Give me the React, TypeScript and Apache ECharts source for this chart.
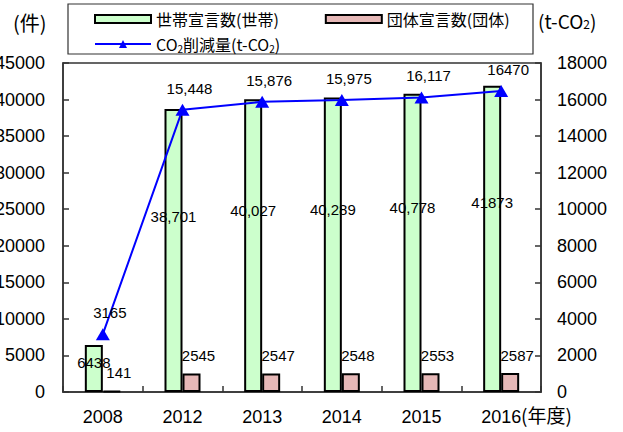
import React, { useEffect, useRef } from "react";
import * as echarts from "echarts";

const categories = ["2008", "2012", "2013", "2014", "2015", "2016"];
const householdValues = [6438, 38701, 40027, 40289, 40778, 41873];
const householdLabels = ["6438", "38,701", "40,027", "40,289", "40,778", "41873"];
const groupValues = [141, 2545, 2547, 2548, 2553, 2587];
const co2Values = [3165, 15448, 15876, 15975, 16117, 16470];
const co2Labels = ["3165", "15,448", "15,876", "15,975", "16,117", "16470"];

const NUM_FONT = "'Liberation Sans', Arial, sans-serif";
const JP_FONT = "'Noto Sans CJK JP', 'Liberation Sans', sans-serif";

export default function App() {
  const ref = useRef<HTMLDivElement>(null);
  useEffect(() => {
    if (!ref.current) return;
    const chart = echarts.init(ref.current, null, { renderer: "svg" });
    const axisLine = { show: true, lineStyle: { color: "#333", width: 1.5 } };
    const plain = (v: number) => String(v);
    chart.setOption({
      animation: false,
      backgroundColor: "#fff",
      grid: {
        left: 63,
        right: 82,
        top: 63,
        bottom: 40,
        containLabel: false,
        outerBoundsMode: "none",
        show: true,
        borderColor: "#333",
        borderWidth: 1.5,
        backgroundColor: "transparent",
      },
      legend: [
        {
          left: 89,
          top: 6,
          itemWidth: 56,
          itemHeight: 8,
          itemGap: 46,
          textStyle: { fontFamily: JP_FONT, fontSize: 16, color: "#000" },
          data: [
            { name: "世帯宣言数(世帯)", icon: "rect", itemStyle: { color: "#ccffcc", borderColor: "#000", borderWidth: 2 } },
            { name: "団体宣言数(団体)", icon: "rect", itemStyle: { color: "#e6b8b7", borderColor: "#000", borderWidth: 2 } },
          ],
        },
        {
          left: 89,
          top: 31,
          itemWidth: 56,
          itemHeight: 10,
          textStyle: {
            fontFamily: JP_FONT,
            fontSize: 16,
            color: "#000",
            rich: {
              n: { fontFamily: JP_FONT, fontSize: 16, color: "#000" },
              s: { fontFamily: JP_FONT, fontSize: 10, color: "#000", padding: [8, 0, 0, 0] },
            },
          },
          formatter: () => "{n|CO}{s|2}{n|削減量(t-CO}{s|2}{n|)}",
          data: ["CO2削減量(t-CO2)"],
        },
      ],
      graphic: [
        {
          type: "rect",
          shape: { x: 68, y: 4, width: 465, height: 50 },
          style: { fill: "none", stroke: "#333", lineWidth: 1.2 },
          z: -1,
        },
        {
          type: "text",
          x: 13,
          y: 12,
          style: { text: "(件)", font: `20px ${JP_FONT}`, fill: "#000" },
        },
        {
          type: "text",
          x: 538,
          y: 11,
          style: {
            text: "{n|(t-CO}{s|2}{n|)}",
            rich: {
              n: { fontFamily: JP_FONT, fontSize: 19, fill: "#000" },
              s: { fontFamily: JP_FONT, fontSize: 12, fill: "#000", padding: [6, 0, 0, 0] },
            },
          },
        },
        {
          type: "text",
          x: 521,
          y: 405,
          style: { text: "(年度)", font: `19px ${JP_FONT}`, fill: "#000" },
        },
      ],
      xAxis: {
        type: "category",
        data: categories,
        boundaryGap: true,
        axisLine,
        axisTick: { show: true, inside: true, length: 6, alignWithLabel: false, lineStyle: { color: "#333", width: 1.5 } },
        axisLabel: { fontFamily: NUM_FONT, fontSize: 18, color: "#000", margin: 16 },
        splitLine: { show: false },
      },
      yAxis: [
        {
          type: "value",
          min: 0,
          max: 45000,
          interval: 5000,
          position: "left",
          axisLine,
          axisTick: { show: true, inside: true, length: 6, lineStyle: { color: "#333", width: 1.5 } },
          axisLabel: { fontFamily: NUM_FONT, fontSize: 18, color: "#000", margin: 18, formatter: plain },
          splitLine: { show: false },
        },
        {
          type: "value",
          min: 0,
          max: 18000,
          interval: 2000,
          position: "right",
          axisLine,
          axisTick: { show: true, inside: true, length: 6, lineStyle: { color: "#333", width: 1.5 } },
          axisLabel: { fontFamily: NUM_FONT, fontSize: 18, color: "#000", margin: 16, formatter: plain },
          splitLine: { show: false },
        },
      ],
      series: [
        {
          name: "世帯宣言数(世帯)",
          type: "bar",
          data: householdValues,
          barWidth: 18,
          barGap: "0%",
          itemStyle: { color: "#ccffcc", borderColor: "#000", borderWidth: 2 },
          label: {
            show: true,
            position: ["50%", "38%"],
            align: "center",
            verticalAlign: "middle",
            fontFamily: NUM_FONT,
            fontSize: 15,
            color: "#000",
            formatter: (p: any) => householdLabels[p.dataIndex],
          },
          z: 2,
        },
        {
          name: "団体宣言数(団体)",
          type: "bar",
          data: groupValues,
          barWidth: 18,
          barGap: "0%",
          itemStyle: { color: "#e6b8b7", borderColor: "#000", borderWidth: 2 },
          label: {
            show: true,
            position: "top",
            offset: [7, -5],
            fontFamily: NUM_FONT,
            fontSize: 15,
            color: "#000",
          },
          z: 2,
        },
        {
          name: "CO2削減量(t-CO2)",
          type: "line",
          yAxisIndex: 1,
          data: co2Values,
          symbol: "triangle",
          symbolSize: [14, 12],
          itemStyle: { color: "#0000ff" },
          lineStyle: { color: "#0000ff", width: 2 },
          label: {
            show: true,
            position: "top",
            offset: [7, -3],
            fontFamily: NUM_FONT,
            fontSize: 15,
            color: "#000",
            formatter: (p: any) => co2Labels[p.dataIndex],
          },
          z: 5,
        },
      ],
    });
    return () => chart.dispose();
  }, []);
  return (
    <div
      ref={ref}
      style={{ position: "absolute", left: 0, top: 0, width: 623, height: 432, background: "#fff" }}
    />
  );
}
